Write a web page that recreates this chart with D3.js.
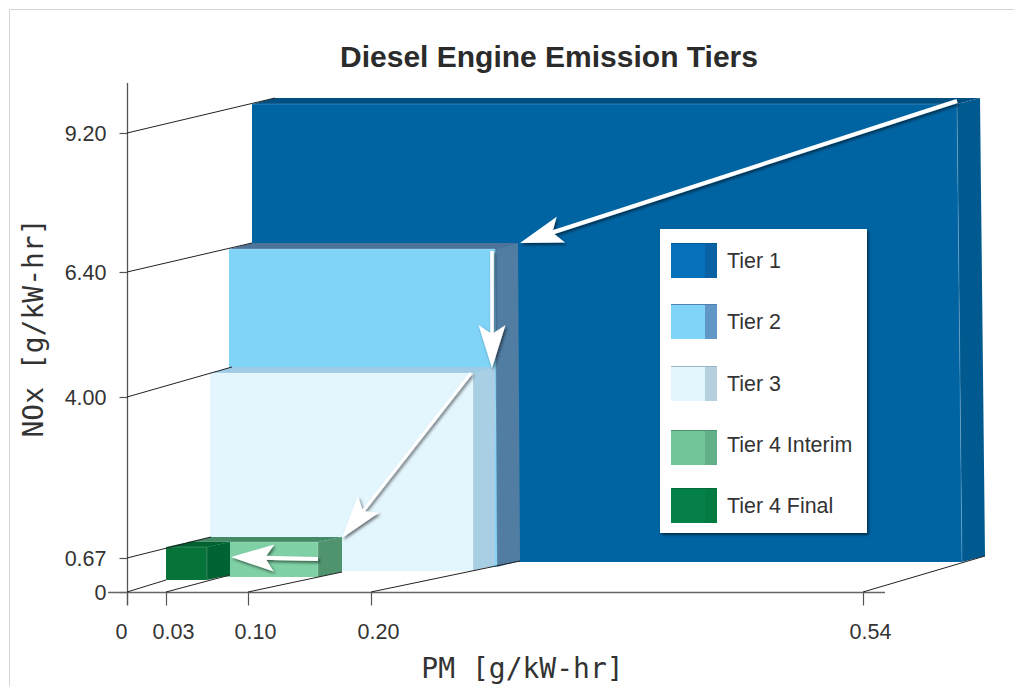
<!DOCTYPE html>
<html>
<head>
<meta charset="utf-8">
<script src="https://cdn.jsdelivr.net/npm/d3@7"></script>
<style>
  html, body { margin: 0; padding: 0; background: #fff; }
  svg { display: block; }
  text { font-family: "Liberation Sans", Helvetica, Arial, sans-serif; fill: #333; }
  .mono { font-family: "DejaVu Sans Mono", monospace; font-size: 28px; fill: #333; }
</style>
</head>
<body>
<svg id="chart" width="1014" height="686"></svg>
<script>
// chart values
const tierNames = ["Tier 1", "Tier 2", "Tier 3", "Tier 4 Interim", "Tier 4 Final"];
const tierPM    = [0.54, 0.20, 0.20, 0.10, 0.03];
const tierNOx   = [9.20, 6.40, 4.00, 0.67, 0.67];
const pmTicks   = [0, 0.03, 0.10, 0.20, 0.54];
const noxTicks  = [0, 0.67, 4.00, 6.40, 9.20];

// colours per tier
const frontColor = ["#0064a3", "#80d4f8", "#e3f5fd", "#7fd1a5", "#067339"];
const sideColor  = ["#005a90", "#517da3", "#a9cfe5", "#4f946f", "#006334"];
const topColor   = ["#004f82", "#4d7399", "#9fcbe6", "#458a66", "#00622f"];
const swatchMain = ["#0770ba", "#80d4f8", "#e3f5fd", "#70c599", "#058048"];
const swatchSide = ["#0a62a4", "#6097c6", "#b7d0df", "#62b089", "#037a40"];
const swatchTop  = ["#005a96", "#5080ac", "#99b5c5", "#4f9470", "#006b38"];

// the axes are not linear, every tick has its own place
const pmPlaces  = [127, 166, 248, 371, 863];
const noxPlaces = [592, 558, 397, 272, 133];
const x = d3.scaleLinear().domain(pmTicks).range(pmPlaces);
const y = d3.scaleLinear().domain(noxTicks).range(noxPlaces);

// how far each box sits in front of the back wall (hand tuned, the
// original is a drawing and not a true projection)
const shiftLeft   = [125, 102, 83, 60, 39];
const shiftRight  = [94, 124, 102, 70, 41];
const shiftTop    = [-29, -23, -24, -16, -11];
const shiftBottom = [-30, -25, -21, -15, -12];
const lean        = [5, 2, 0, 0, 0];
const depthX      = [23, 23, 22, 24, 23];
const depthY      = [-6, -6, -6, -5, -5];

function project(i, pm, nox, back) {
  const t = pm / tierPM[i],
        u = nox / tierNOx[i];
  const px = x(pm) + shiftLeft[i] + (shiftRight[i] - shiftLeft[i]) * t + lean[i] * (1 - u) * t,
        py = y(nox) + shiftBottom[i] + (shiftTop[i] - shiftBottom[i]) * u;
  return back ? [px + depthX[i], py + depthY[i]] : [px, py];
}

const svg = d3.select("#chart");

// drop shadow for arrows and legend
const defs = svg.append("defs");
const shadow = defs.append("filter").attr("id", "shadow")
  .attr("x", "-30%").attr("y", "-30%").attr("width", "160%").attr("height", "160%")
  .attr("filterUnits", "objectBoundingBox");
shadow.append("feDropShadow")
  .attr("dx", 1.5).attr("dy", 2).attr("stdDeviation", 1.6)
  .attr("flood-color", "#000").attr("flood-opacity", 0.55);

// frame of the page
svg.append("path")
  .attr("d", "M9.5,686V9.5H1014")
  .attr("fill", "none").attr("stroke", "#d6d6d6").attr("stroke-width", 1);

svg.append("text")
  .attr("x", 549).attr("y", 67)
  .attr("text-anchor", "middle")
  .style("font-size", "30px").style("font-weight", "bold")
  .style("fill", "#2b2b2b")
  .text("Diesel Engine Emission Tiers");

// axes
const fmt = d => d === 0 ? "0" : d3.format(".2f")(d);

const xAxis = svg.append("g")
  .attr("transform", "translate(0,592.5)")
  .call(d3.axisBottom(x).tickValues(pmTicks).tickSizeOuter(0).tickSize(13).tickFormat(fmt));
xAxis.select(".domain").remove();
xAxis.selectAll("line").attr("stroke", "#555").attr("stroke-width", 1.2);
xAxis.selectAll("text")
  .attr("y", 46).attr("dy", 0)
  .attr("dx", d => d === 0 ? -6 : 7)
  .style("font-size", "21.5px").style("font-family", null);

const yAxis = svg.append("g")
  .attr("transform", "translate(127.5,0)")
  .call(d3.axisLeft(y).tickValues(noxTicks).tickSizeOuter(0).tickSize(8).tickFormat(fmt));
yAxis.select(".domain").remove();
yAxis.selectAll("line").attr("stroke", "#555").attr("stroke-width", 1.2);
yAxis.selectAll("text")
  .attr("x", -21).attr("dy", 7.5)
  .style("font-size", "21.5px");

svg.append("line").attr("x1", 127.5).attr("x2", 127.5).attr("y1", 83).attr("y2", 605)
  .attr("stroke", "#555").attr("stroke-width", 1.3);
svg.append("line").attr("x1", 108).attr("x2", 885).attr("y1", 592.5).attr("y2", 592.5)
  .attr("stroke", "#666").attr("stroke-width", 1.3);

svg.append("text").attr("class", "mono")
  .attr("x", 522.5).attr("y", 678)
  .attr("text-anchor", "middle")
  .text("PM [g/kW-hr]");
svg.append("text").attr("class", "mono")
  .attr("transform", "translate(43,328) rotate(-90)")
  .attr("text-anchor", "middle")
  .text("NOx [g/kW-hr]");

// boxes, back one first
const line = d3.line();
const boxes = svg.append("g").selectAll("g")
  .data(tierNames)
  .join("g");

boxes.append("path")
  .attr("d", (_, i) => line([
    project(i, 0, tierNOx[i], false),
    project(i, tierPM[i], tierNOx[i], false),
    project(i, tierPM[i], tierNOx[i], true),
    project(i, 0, tierNOx[i], true)]) + "Z")
  .attr("fill", (_, i) => topColor[i]);

boxes.append("path")
  .attr("d", (_, i) => line([
    project(i, tierPM[i], tierNOx[i], false),
    project(i, tierPM[i], 0, false),
    project(i, tierPM[i], 0, true),
    project(i, tierPM[i], tierNOx[i], true)]) + "Z")
  .attr("fill", (_, i) => sideColor[i]);

boxes.append("path")
  .attr("d", (_, i) => line([
    project(i, 0, tierNOx[i], false),
    project(i, tierPM[i], tierNOx[i], false),
    project(i, tierPM[i], 0, false),
    project(i, 0, 0, false)]) + "Z")
  .attr("fill", (_, i) => frontColor[i]);

// thin light edges on the boxes
boxes.append("path")
  .attr("d", (_, i) => line([
    project(i, 0, tierNOx[i], false),
    project(i, tierPM[i], tierNOx[i], false),
    project(i, tierPM[i], 0, false)]))
  .attr("fill", "none")
  .attr("stroke", "#fff").attr("stroke-opacity", 0.2).attr("stroke-width", 1);

// guide lines from the ticks to the boxes
const guides = [
  [[x(0), y(9.20)], project(0, 0, 9.20, true)],
  [[x(0), y(6.40)], project(1, 0, 6.40, true)],
  [[x(0), y(4.00)], project(2, 0, 4.00, true)],
  [[x(0), y(0.67)], project(3, 0, 0.67, true)],
  [[x(0), y(0)], project(4, 0, 0, false)],
  [[x(0.03), y(0)], project(4, 0.03, 0, true)],
  [[x(0.10), y(0)], project(3, 0.10, 0, true)],
  [[x(0.20), y(0)], project(1, 0.20, 0, true)],
  [[x(0.54), y(0)], project(0, 0.54, 0, true)]
];
svg.append("g").selectAll("path")
  .data(guides)
  .join("path")
  .attr("d", d => line(d))
  .attr("fill", "none").attr("stroke", "#222").attr("stroke-width", 1);

// white arrows from each tier to the next one
function arrow(from, to, w) {
  const dx = to[0] - from[0], dy = to[1] - from[1],
        len = Math.hypot(dx, dy),
        ux = dx / len, uy = dy / len,
        at = (back, side) => [to[0] - ux * back - uy * side, to[1] - uy * back + ux * side];
  const g = svg.append("g").attr("filter", "url(#shadow)");
  g.append("path")
    .attr("d", line([from, at(30, 0)]))
    .attr("stroke", "#fff").attr("stroke-width", w).attr("fill", "none");
  g.append("path")
    .attr("d", line([to, at(43, 13.5), at(34, 0), at(43, -13.5)]) + "Z")
    .attr("fill", "#fff");
}
const nudge = (p, a, b) => [p[0] + a, p[1] + b];
arrow(nudge(project(0, 0.54, 9.20, false), 0, -3), nudge(project(1, 0.20, 6.40, true), 2, 0), 4);
arrow(nudge(project(1, 0.20, 6.40, false), -3, 2), nudge(project(2, 0.20, 4.00, true), -3, 1), 3.5);
arrow(nudge(project(2, 0.20, 4.00, false), -2, 0), nudge(project(3, 0.10, 0.67, true), 0, 1), 3);
arrow(nudge(project(3, 0.10, 0.67, false), 0, 17), nudge(project(4, 0.03, 0.67, true), 1, 15), 4);

// legend
const legendTop  = [243, 304, 366, 430, 488];
const legendText = [268, 329, 391, 452, 513];
const legend = svg.append("g");
legend.append("rect")
  .attr("x", 660).attr("y", 229).attr("width", 207).attr("height", 304)
  .attr("fill", "#fff").attr("filter", "url(#shadow)");
const rows = legend.selectAll("g.row")
  .data(tierNames)
  .join("g").attr("class", "row");
rows.append("rect")
  .attr("x", 671).attr("y", (_, i) => legendTop[i])
  .attr("width", 34).attr("height", 35)
  .attr("fill", (_, i) => swatchMain[i]);
rows.append("rect")
  .attr("x", 705).attr("y", (_, i) => legendTop[i])
  .attr("width", 12).attr("height", 35)
  .attr("fill", (_, i) => swatchSide[i]);
rows.append("rect")
  .attr("x", 671).attr("y", (_, i) => legendTop[i])
  .attr("width", 46).attr("height", 1)
  .attr("fill", (_, i) => swatchTop[i]);
rows.append("text")
  .attr("x", 727).attr("y", (_, i) => legendText[i])
  .style("font-size", "21.4px")
  .text(d => d);
</script>
</body>
</html>
